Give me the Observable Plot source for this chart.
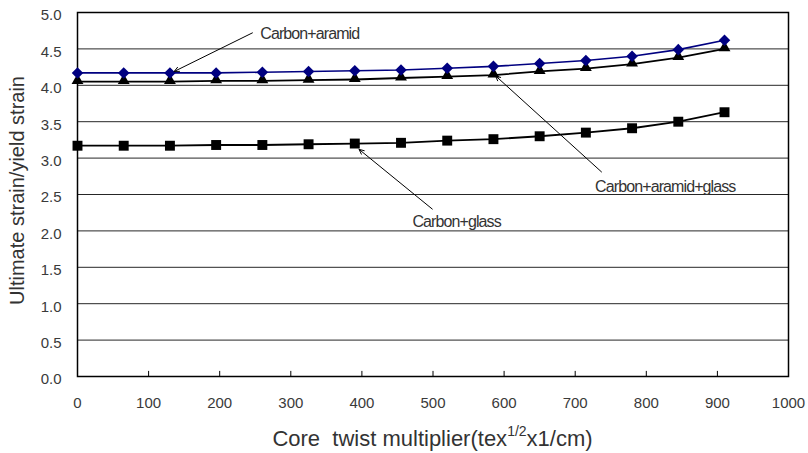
<!DOCTYPE html>
<html>
<head>
<meta charset="utf-8">
<script src="https://cdn.jsdelivr.net/npm/d3@7"></script>
<script src="https://cdn.jsdelivr.net/npm/@observablehq/plot@0.6"></script>
<style>
  body { margin: 0; background: #fff; }
  #chart svg { display: block; }
</style>
</head>
<body>
<div id="chart"></div>
<script>
// Core twist multiplier (tex^1/2 x 1/cm)
const twist = [0, 65, 130, 195, 260, 325, 390, 455, 520, 585, 650, 715, 780, 845, 910];

// Ultimate strain / yield strain for each core composition
const carbonAramid      = [4.17, 4.17, 4.17, 4.17, 4.18, 4.19, 4.20, 4.21, 4.235, 4.26, 4.30, 4.34, 4.40, 4.49, 4.62];
const carbonAramidGlass = [4.05, 4.05, 4.05, 4.06, 4.06, 4.07, 4.08, 4.10, 4.12, 4.14, 4.19, 4.23, 4.29, 4.38, 4.50];
const carbonGlass       = [3.17, 3.17, 3.17, 3.18, 3.18, 3.19, 3.20, 3.21, 3.24, 3.26, 3.30, 3.35, 3.41, 3.50, 3.63];

// Axis ticks
const xTicks = [0, 100, 200, 300, 400, 500, 600, 700, 800, 900, 1000];
const yTicks = [0, 0.5, 1, 1.5, 2, 2.5, 3, 3.5, 4, 4.5, 5];

// Callout labels and their pointer arrows (data coordinates)
const noteText = ["Carbon+aramid", "Carbon+aramid+glass", "Carbon+glass"];
const noteX    = [257, 728, 471];
const noteY    = [4.71, 2.60, 2.12];
const arrowX1  = [246, 737, 499];
const arrowY1  = [4.72, 2.81, 2.30];
const arrowX2  = [136, 588, 396];
const arrowY2  = [4.19, 4.13, 3.12];

const toRows = (ys) => twist.map((x, i) => ({x, y: ys[i]}));
const sA  = toRows(carbonAramid);
const sAG = toRows(carbonAramidGlass);
const sG  = toRows(carbonGlass);
const notes = noteText.map((t, i) => ({
  t, x: noteX[i], y: noteY[i],
  x1: arrowX1[i], y1: arrowY1[i], x2: arrowX2[i], y2: arrowY2[i]
}));

const navy = "#000080";
const font = "'Liberation Sans', Arial, Helvetica, sans-serif";

const chart = Plot.plot({
  width: 808,
  height: 453,
  marginLeft: 77,
  marginRight: 20,
  marginTop: 12,
  marginBottom: 77,
  style: { fontFamily: font, background: "#fff", overflow: "visible" },
  x: { domain: [0, 1000] },
  y: { domain: [0, 5] },
  marks: [
    Plot.gridY(yTicks, { stroke: "#000", strokeOpacity: 0.85, strokeWidth: 1 }),
    Plot.ruleX(xTicks, { y1: 0, y2: 0.07, stroke: "#000", strokeWidth: 1 }),
    Plot.frame({ stroke: "#000", strokeWidth: 1.5 }),
    Plot.axisX(xTicks, {
      tickSize: 0, tickPadding: 21, fontSize: 15, fill: "#3a3a3a", label: null,
      tickFormat: (d) => String(d)
    }),
    Plot.axisY(yTicks, {
      tickSize: 0, tickPadding: 16, fontSize: 15, fill: "#3a3a3a", label: null,
      tickFormat: (d) => d.toFixed(1), dy: 3
    }),
    Plot.text(["Ultimate strain/yield strain"], {
      frameAnchor: "left", rotate: -90, dx: -60, dy: -4,
      fontSize: 20, fill: "#333", textAnchor: "middle"
    }),

    // series lines
    Plot.line(sG,  { x: "x", y: "y", stroke: "#000", strokeWidth: 1.8 }),
    Plot.line(sAG, { x: "x", y: "y", stroke: "#000", strokeWidth: 1.8 }),
    Plot.line(sA,  { x: "x", y: "y", stroke: navy, strokeWidth: 1.6 }),

    // series markers
    Plot.dot(sG,  { x: "x", y: "y", symbol: "square", r: 5.6, fill: "#000", stroke: "none" }),
    Plot.dot(sAG, { x: "x", y: "y", symbol: "triangle", r: 4.4, fill: "#000", stroke: "none", dy: -1 }),
    Plot.dot(sA,  { x: "x", y: "y", symbol: "diamond2", r: 5.2, fill: navy, stroke: "none" }),

    // callouts
    Plot.arrow(notes, {
      x1: "x1", y1: "y1", x2: "x2", y2: "y2",
      stroke: "#000", strokeWidth: 1, headLength: 8, headAngle: 50
    }),
    Plot.text(notes, {
      x: "x", y: "y", text: "t", textAnchor: "start",
      fontSize: 16, fill: "#333"
    })
  ]
});

// tighten the callout lettering
d3.select(chart).selectAll("g[aria-label='text'] text")
  .filter(function () { return noteText.includes(this.textContent); })
  .attr("letter-spacing", "-0.9");

// x-axis title with a superscript exponent
const title = d3.select(chart).append("text")
  .attr("x", (77 + 788) / 2)
  .attr("y", 446)
  .attr("text-anchor", "middle")
  .attr("font-family", font)
  .attr("font-size", 22)
  .attr("fill", "#333")
  .style("white-space", "pre");
title.append("tspan").text("Core  twist multiplier(tex");
title.append("tspan").attr("font-size", 14).attr("dy", -10).text("1/2");
title.append("tspan").attr("dy", 10).text("x1/cm)");

document.getElementById("chart").appendChild(chart);
</script>
</body>
</html>
